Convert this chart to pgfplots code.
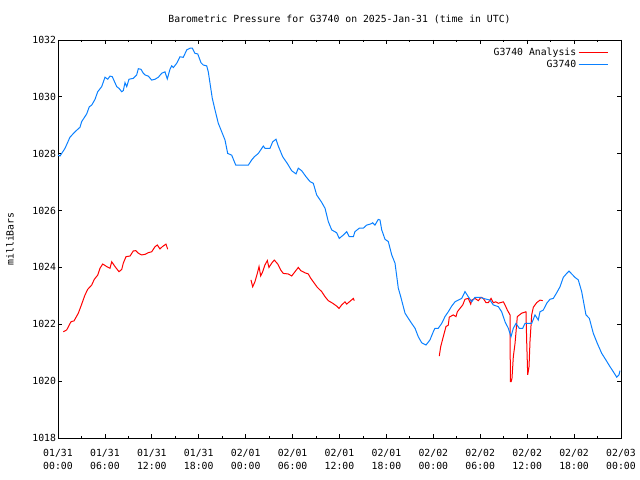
\documentclass[border=0pt]{standalone}
\usepackage{pgfplots}
\pgfplotsset{compat=1.18}
\usepackage{fontspec}
\setmainfont{DejaVu Sans Mono}
\definecolor{gblue}{RGB}{10,128,255}
\definecolor{gred}{RGB}{255,0,0}
\begin{document}
\fontsize{9.8bp}{12.5bp}\selectfont
\begin{tikzpicture}
\path[use as bounding box] (-58bp,-42bp) rectangle (582bp,438bp);
\begin{axis}[
  scale only axis,
  width=563bp, height=398bp,
  xmin=0, xmax=72, ymin=1018, ymax=1032,
  xtick={0,6,...,72},
  xticklabels={{01/31\\00:00},{01/31\\06:00},{01/31\\12:00},{01/31\\18:00},{02/01\\00:00},{02/01\\06:00},{02/01\\12:00},{02/01\\18:00},{02/02\\00:00},{02/02\\06:00},{02/02\\12:00},{02/02\\18:00},{02/03\\00:00}},
  minor x tick num=1,
  ytick={1018,1020,...,1032},
  /pgf/number format/assume math mode=true,
  /pgf/number format/1000 sep={},
  tick align=inside,
  major tick length=4bp, minor tick length=2bp,
  every tick/.style={black, line width=0.8bp},
  axis line style={line width=0.8bp},
  xticklabel style={align=center, font=\fontsize{9.8bp}{13bp}\selectfont, yshift=-8bp},
  yticklabel style={font=\fontsize{9.8bp}{12.5bp}\selectfont, xshift=1.5bp},
  ylabel={milliBars},
  every axis y label/.style={at={(rel axis cs:0,0.5)}, xshift=-48bp, rotate=90, anchor=center},
  title={Barometric Pressure for G3740 on 2025-Jan-31 (time in UTC)},
  every axis title/.style={at={(rel axis cs:0.5,1)}, yshift=21bp, anchor=center},
  unbounded coords=jump,
  legend style={draw=none, fill=none, at={(rel axis cs:0.983,0.99)}, anchor=north east, row sep=-0.5bp, font=\fontsize{9.8bp}{12.5bp}\selectfont},
  legend cell align=right,
  legend plot pos=right,
  legend image code/.code={\draw[#1] (0bp,0bp) -- (29bp,0bp);},
]
\addplot[gred, line width=1bp] table[row sep=\\] {
x y\\
0.68 1021.74\\ 1.11 1021.80\\ 1.66 1022.09\\ 2.05 1022.12\\ 2.60 1022.39\\ 2.94 1022.64\\
3.45 1023.03\\ 3.80 1023.23\\ 4.31 1023.38\\ 4.64 1023.58\\ 5.08 1023.73\\ 5.37 1023.97\\
5.72 1024.12\\ 6.23 1024.03\\ 6.65 1023.97\\ 6.87 1024.20\\ 7.29 1024.03\\ 7.80 1023.85\\
8.15 1023.93\\ 8.35 1024.15\\ 8.70 1024.38\\ 9.21 1024.40\\ 9.63 1024.58\\ 9.94 1024.59\\
10.27 1024.50\\ 10.70 1024.44\\ 11.13 1024.46\\ 11.55 1024.52\\ 11.98 1024.55\\ 12.41 1024.73\\
12.70 1024.79\\ 13.04 1024.65\\ 13.34 1024.73\\ 13.81 1024.82\\ 14.03 1024.64\\
20 nan\\
24.68 1023.56\\ 24.90 1023.32\\ 25.19 1023.50\\ 25.49 1023.79\\ 25.71 1024.03\\ 25.92 1023.70\\
26.18 1023.85\\ 26.47 1024.09\\ 26.77 1024.24\\ 26.98 1024.00\\ 27.33 1024.15\\ 27.66 1024.26\\
28.10 1024.12\\ 28.48 1023.91\\ 28.81 1023.79\\ 29.45 1023.77\\ 29.89 1023.70\\ 30.31 1023.85\\
30.73 1024.00\\ 31.04 1023.89\\ 31.59 1023.81\\ 32.01 1023.77\\ 32.32 1023.62\\ 32.74 1023.46\\
33.16 1023.30\\ 33.72 1023.15\\ 34.15 1022.97\\ 34.57 1022.83\\ 35.13 1022.74\\ 35.64 1022.64\\
35.94 1022.56\\ 36.28 1022.68\\ 36.70 1022.79\\ 36.92 1022.71\\ 37.43 1022.83\\ 37.77 1022.91\\
37.89 1022.83\\
44 nan\\
48.76 1020.88\\ 48.94 1021.21\\ 49.27 1021.56\\ 49.62 1021.92\\ 49.91 1021.97\\ 50.04 1022.25\\
50.55 1022.33\\ 50.90 1022.27\\ 51.07 1022.44\\ 51.41 1022.56\\ 51.76 1022.68\\ 52.05 1022.88\\
52.47 1022.91\\ 52.78 1022.71\\ 52.91 1022.85\\ 53.33 1022.91\\ 53.75 1022.83\\ 54.10 1022.95\\
54.39 1022.91\\ 54.74 1022.76\\ 55.03 1022.76\\ 55.38 1022.91\\ 55.67 1022.76\\ 55.98 1022.79\\
56.31 1022.74\\ 56.95 1022.79\\ 57.17 1022.68\\ 57.46 1022.50\\ 57.81 1022.33\\ 57.85 1019.98\\
57.95 1019.98\\ 58.06 1020.10\\ 58.23 1020.86\\ 58.45 1021.33\\ 58.74 1022.27\\ 59.30 1022.39\\
59.85 1022.44\\ 59.94 1021.39\\ 60.07 1020.22\\ 60.24 1020.51\\ 60.36 1021.39\\ 60.58 1022.33\\
60.79 1022.60\\ 61.22 1022.76\\ 61.64 1022.85\\ 61.99 1022.83\\
};
\addlegendentry{G3740 Analysis}
\addplot[gblue, line width=1bp] table[row sep=\\] {
x y\\
0.00 1027.95\\ 0.26 1027.92\\ 0.90 1028.19\\ 1.53 1028.58\\ 2.17 1028.77\\ 2.81 1028.93\\ 3.03 1029.13\\
3.67 1029.40\\ 4.00 1029.65\\ 4.31 1029.71\\ 4.73 1029.91\\ 5.08 1030.18\\ 5.59 1030.36\\
6.01 1030.69\\ 6.36 1030.62\\ 6.65 1030.73\\ 6.94 1030.71\\ 7.51 1030.36\\ 7.80 1030.30\\
8.15 1030.18\\ 8.35 1030.22\\ 8.57 1030.50\\ 8.79 1030.36\\ 9.08 1030.62\\ 9.63 1030.65\\
10.06 1030.77\\ 10.27 1030.99\\ 10.61 1030.97\\ 10.91 1030.83\\ 11.13 1030.77\\ 11.55 1030.73\\
11.98 1030.59\\ 12.41 1030.62\\ 12.83 1030.69\\ 13.26 1030.83\\ 13.68 1030.88\\ 13.98 1030.63\\
14.32 1030.97\\ 14.54 1031.09\\ 14.75 1031.03\\ 15.18 1031.18\\ 15.60 1031.41\\ 16.02 1031.39\\
16.46 1031.65\\ 16.88 1031.71\\ 17.18 1031.71\\ 17.52 1031.53\\ 17.87 1031.51\\ 18.29 1031.20\\
18.58 1031.12\\ 19.02 1031.09\\ 19.22 1030.88\\ 19.44 1030.48\\ 19.73 1029.95\\ 20.08 1029.54\\
20.50 1029.07\\ 20.94 1028.77\\ 21.36 1028.48\\ 21.70 1028.01\\ 22.21 1027.95\\ 22.73 1027.60\\
24.34 1027.60\\ 24.77 1027.78\\ 25.10 1027.89\\ 25.62 1028.01\\ 26.26 1028.27\\ 26.47 1028.19\\
27.11 1028.19\\ 27.46 1028.42\\ 27.88 1028.51\\ 28.17 1028.27\\ 28.74 1027.89\\ 29.32 1027.66\\
29.89 1027.40\\ 30.44 1027.29\\ 30.73 1027.49\\ 31.17 1027.40\\ 31.72 1027.19\\ 32.23 1027.02\\
32.65 1026.96\\ 33.08 1026.55\\ 33.72 1026.29\\ 34.15 1026.08\\ 34.57 1025.61\\ 35.00 1025.32\\
35.64 1025.22\\ 35.97 1025.02\\ 36.49 1025.14\\ 36.92 1025.26\\ 37.25 1025.08\\ 37.77 1025.08\\
37.98 1025.26\\ 38.53 1025.38\\ 39.04 1025.38\\ 39.48 1025.49\\ 39.99 1025.53\\ 40.25 1025.57\\
40.54 1025.49\\ 40.96 1025.69\\ 41.18 1025.67\\ 41.40 1025.32\\ 41.82 1024.99\\ 42.24 1024.91\\
42.68 1024.44\\ 43.10 1024.15\\ 43.52 1023.27\\ 43.83 1022.97\\ 44.38 1022.39\\ 44.80 1022.21\\
45.23 1022.03\\ 45.66 1021.86\\ 46.08 1021.56\\ 46.51 1021.35\\ 47.06 1021.27\\ 47.57 1021.45\\
48.00 1021.74\\ 48.21 1021.86\\ 48.63 1021.86\\ 49.07 1022.03\\ 49.49 1022.27\\ 49.91 1022.44\\
50.35 1022.64\\ 50.77 1022.79\\ 51.19 1022.85\\ 51.63 1022.91\\ 52.05 1023.15\\ 52.47 1022.97\\
52.91 1022.79\\ 53.33 1022.95\\ 53.97 1022.95\\ 54.39 1022.91\\ 54.83 1022.88\\ 55.25 1022.85\\
55.67 1022.68\\ 56.31 1022.62\\ 56.74 1022.44\\ 57.17 1022.09\\ 57.59 1021.86\\ 57.93 1021.56\\
58.23 1021.86\\ 58.57 1022.03\\ 58.99 1021.86\\ 59.43 1021.86\\ 59.72 1022.03\\ 60.58 1022.03\\
61.00 1022.33\\ 61.42 1022.15\\ 61.64 1022.44\\ 62.06 1022.50\\ 62.50 1022.74\\ 62.92 1022.88\\
63.34 1022.91\\ 63.78 1023.11\\ 64.20 1023.32\\ 64.62 1023.65\\ 65.06 1023.79\\ 65.35 1023.87\\
65.70 1023.77\\ 66.12 1023.65\\ 66.54 1023.56\\ 66.97 1023.15\\ 67.52 1022.33\\ 67.95 1022.21\\
68.46 1021.68\\ 68.97 1021.33\\ 69.53 1020.98\\ 70.08 1020.74\\ 70.59 1020.51\\ 71.02 1020.33\\
71.45 1020.14\\ 71.74 1020.22\\ 71.87 1020.37\\
};
\addlegendentry{G3740}
\end{axis}
\end{tikzpicture}
\end{document}
